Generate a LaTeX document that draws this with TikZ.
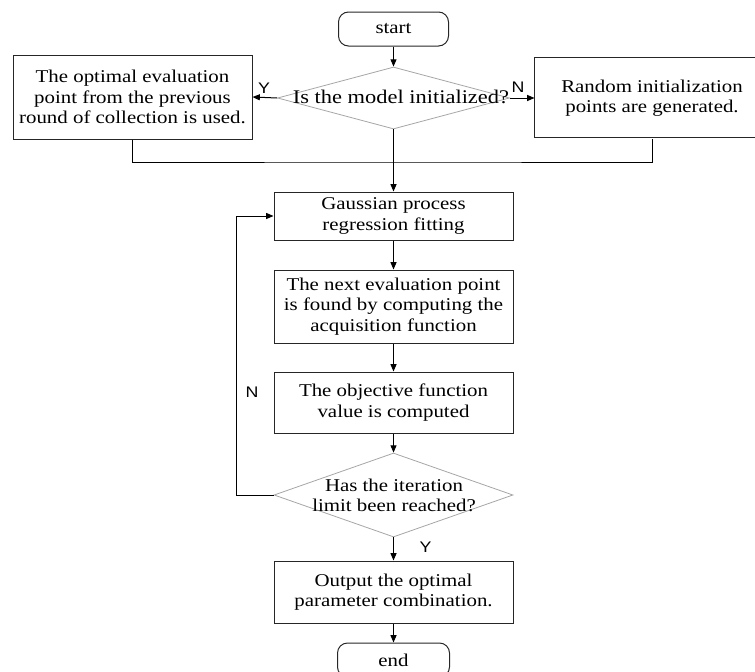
\documentclass[tikz,border=0pt]{standalone}
\usepackage{fontspec}
\setmainfont{Liberation Serif}[FakeStretch=1.16]
\newfontfamily\labelfont{Liberation Sans}[FakeStretch=1.16]
\usetikzlibrary{shapes.geometric,arrows.meta}
\begin{document}
\begin{tikzpicture}[x=0.75pt,y=0.75pt,yscale=-1,xscale=1,
    proc/.style={draw=black!85,line width=0.75pt,rectangle,align=center,inner sep=0pt,font=\fontsize{13.5}{15.4}\selectfont},
    term/.style={proc,rounded corners=7.5pt},
    decide/.style={draw=black!35,line width=0.6pt,diamond,inner sep=0pt},
    decidetext/.style={align=center,inner sep=0pt},
    flow/.style={line width=0.75pt,-{Triangle[length=5.5pt,width=4.5pt]}},
    link/.style={line width=0.75pt},
    yn/.style={font=\labelfont\fontsize{11.5}{13}\selectfont,inner sep=0pt}]
\useasboundingbox (0,0) rectangle (755,671);
\clip (0,0) rectangle (755,671);

%Shape: Terminals
\node [term,minimum width=82.5pt,minimum height=25.5pt] (start) at (393.5,29) {start};
\node [term,minimum width=84pt,minimum height=25.5pt] (end) at (393.5,660) {end};

%Shape: Diamonds
\node [decide,minimum width=174pt,minimum height=46.5pt] (init) at (393.5,98) {};
\node [decide,minimum width=179.25pt,minimum height=63pt] (limit) at (393.5,495) {};

% Text Node
\node [decidetext,font=\fontsize{14.5}{16}\selectfont] (initText) at (401,97) {Is the model initialized?};
% Text Node
\node [decidetext,font=\fontsize{13.5}{15.4}\selectfont] (limitText) at (394,495.5) {Has the iteration\\limit been reached?};

%Shape: Rectangles
\node [proc,minimum width=179.25pt,minimum height=63pt] (reuse) at (132.5,97) {The optimal evaluation\\point from the previous\\round of collection is used.};
\node [proc,draw=none,minimum width=175.5pt,minimum height=60pt] (random) at (652,98) {Random initialization\\points are generated.};
\draw [draw=black!85,line width=0.75pt] (random.north west) rectangle ++(300,80);
\node [proc,minimum width=179.25pt,minimum height=36pt] (gpr) at (393.5,216) {Gaussian process\\regression fitting};
\node [proc,minimum width=179.25pt,minimum height=54.75pt] (acq) at (393.5,306.5) {The next evaluation point\\is found by computing the\\acquisition function};
\node [proc,minimum width=179.25pt,minimum height=45.75pt] (objective) at (393.5,402.5) {The objective function\\value is computed};
\node [proc,minimum width=179.25pt,minimum height=46.5pt] (output) at (393.5,592) {Output the optimal\\parameter combination.};

%Straight Lines
\coordinate (merge) at (393.5,162);
\draw [flow] (start.south) -- (init.north);
\draw [flow] (init.west) -- (reuse.east);
\draw [flow] (init.east) -- (random.west);
\draw [link] (reuse.south) |- (merge) -| (random.south);
\draw [flow] (init.south) -- (gpr.north);
\draw [flow] (gpr.south) -- (acq.north);
\draw [flow] (acq.south) -- (objective.north);
\draw [flow] (objective.south) -- (limit.north);
\draw [flow] (limit.south) -- (output.north);
\draw [flow] (output.south) -- (end.north);
\draw [flow] (limit.west) -- ++(-37,0) |- (gpr.west);

% Text Node
\node [yn] (yesInit) at (264,88) {Y};
\node [yn] (noInit) at (518,87) {N};
\node [yn] (noLimit) at (252,392) {N};
\node [yn] (yesLimit) at (425.5,547.5) {Y};
\end{tikzpicture}
\end{document}
